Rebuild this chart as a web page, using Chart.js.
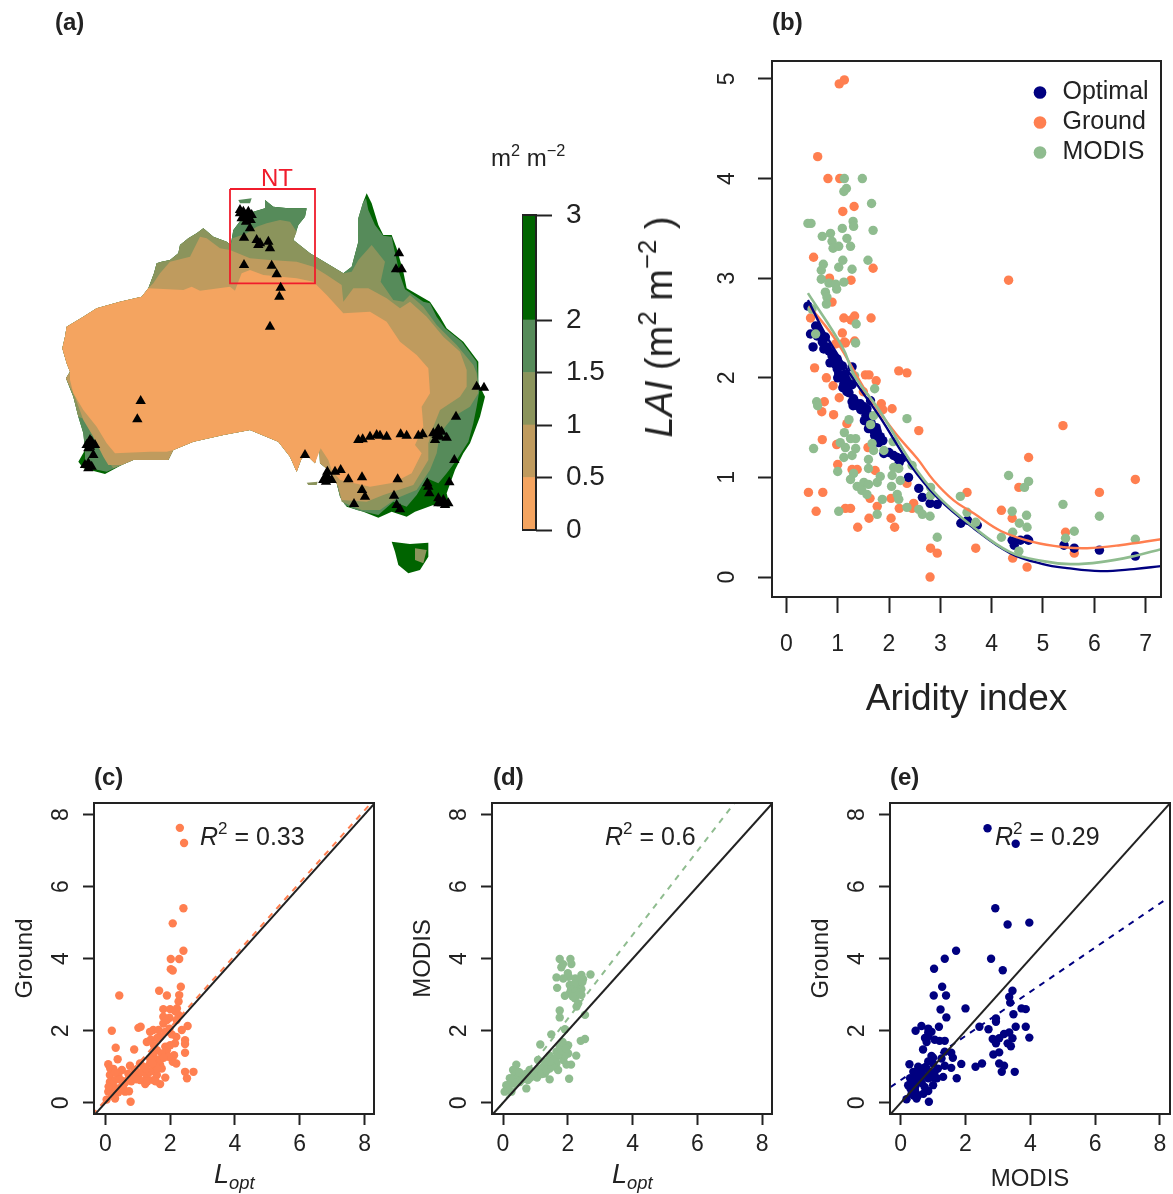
<!DOCTYPE html>
<html>
<head>
<meta charset="utf-8">
<title>LAI figure</title>
<script src="https://cdn.jsdelivr.net/npm/chart.js@4/dist/chart.umd.min.js"></script>
<style>
html, body { margin: 0; padding: 0; background: #fff; width: 1173px; height: 1194px; overflow: hidden; }
canvas { position: absolute; filter: blur(0.45px); }
.t { position: absolute; white-space: nowrap; line-height: 1; font-family: "Liberation Sans", Arial, sans-serif; color: #222; filter: blur(0.3px); }
.t b { font-weight: bold; }
.t sup { font-size: .68em; line-height: 0; vertical-align: .62em; }
.t sub { font-size: .68em; line-height: 0; vertical-align: -.3em; }
.r { transform: translate(-50%, -50%) rotate(-90deg); }
</style>
</head>
<body>
<canvas id="mapChart"></canvas>
<canvas id="barChart"></canvas>
<canvas id="aridChart"></canvas>
<canvas id="cChart"></canvas>
<canvas id="dChart"></canvas>
<canvas id="eChart"></canvas>

<div class="t" style="left:55px;top:10px;font-size:24px"><b>(a)</b></div>
<div class="t" style="left:772px;top:10px;font-size:24px"><b>(b)</b></div>
<div class="t" style="left:94px;top:765px;font-size:24px"><b>(c)</b></div>
<div class="t" style="left:493px;top:765px;font-size:24px"><b>(d)</b></div>
<div class="t" style="left:890px;top:765px;font-size:24px"><b>(e)</b></div>
<div class="t" style="left:261px;top:166px;font-size:24px;color:#f01c2c">NT</div>
<div class="t" style="left:491px;top:146px;font-size:24px">m<sup>2</sup> m<sup>−2</sup></div>
<div class="t r" style="left:659px;top:327px;font-size:38px"><i>LAI</i> (m<sup>2</sup> m<sup>−2</sup> )</div>
<div class="t" style="left:200px;top:824px;font-size:25px"><i>R</i><sup>2</sup> = 0.33</div>
<div class="t" style="left:605px;top:824px;font-size:25px"><i>R</i><sup>2</sup> = 0.6</div>
<div class="t" style="left:995px;top:824px;font-size:25px"><i>R</i><sup>2</sup> = 0.29</div>
<div class="t" style="left:214px;top:1161px;font-size:27px"><i>L<sub>opt</sub></i></div>
<div class="t" style="left:612px;top:1161px;font-size:27px"><i>L<sub>opt</sub></i></div>

<script>
// panel (a): contours in map grid units (x east, y south)
const westCoast = [[630,780],[550,795],[460,815],[400,840],[385,870],[280,870],[245,885],[195,912],[130,895],[115,875],[135,840],[130,790],[115,740],[100,680],[78,625],[90,605],[80,580],[67,535],[75,500],[80,470],[130,440],[170,415],[240,395],[305,380],[325,355],[342,310],[350,280],[365,275],[390,270],[415,250],[420,225],[445,205],[470,190],[490,175],[520,200],[560,215],[572,225]];
const northCoast = [[580,180],[610,140],[640,125],[675,115],[675,90],[700,110],[745,115],[800,115],[795,140],[775,165],[760,210],[810,250],[860,280],[910,310],[935,290],[955,215],[955,145]];
const landOutline = [...westCoast, ...northCoast, [970,95],[980,70],[995,100],[1015,165],[1030,195],[1055,195],[1070,235],[1090,305],[1100,355],[1170,395],[1200,440],[1220,475],[1270,515],[1315,575],[1315,640],[1335,680],[1320,740],[1290,820],[1270,850],[1245,900],[1220,970],[1230,1010],[1180,1005],[1125,1025],[1100,1040],[1055,1025],[1015,1043],[970,1025],[920,1010],[900,980],[890,940],[865,900],[840,880],[838,825],[825,880],[805,860],[785,865],[770,905],[750,860],[715,815]];
const contour2 = [...westCoast.slice(0, 6), [245,885],[200,905],[150,895],[135,872], ...westCoast.slice(10), ...northCoast, [968,100],[978,85],[985,120],[1005,165],[1030,197],[1055,200],[1062,235],[1070,270],[1078,310],[1095,358],[1150,395],[1170,400],[1190,440],[1215,475],[1265,515],[1310,575],[1315,640],[1320,650],[1310,710],[1300,760],[1285,815],[1250,870],[1220,910],[1195,940],[1160,925],[1130,975],[1100,1010],[1060,995],[1015,1035],[950,1020],[915,1005],[900,980],[890,940],[865,900],[840,880],[838,825],[825,880],[805,860],[785,865],[770,905],[750,860],[715,815]];
const contour15 = [[342,310],[350,280],[365,275],[390,270],[415,250],[420,225],[445,205],[470,190],[490,175],[520,200],[560,215],[572,225],[578,205],[620,190],[650,170],[680,160],[720,150],[750,155],[770,185],[760,210],[810,250],[860,280],[910,310],[935,305],[955,270],[995,225],[1035,275],[1022,335],[1060,390],[1090,395],[1110,375],[1150,410],[1190,465],[1250,525],[1300,585],[1310,610],[1315,670],[1290,710],[1240,740],[1200,790],[1190,850],[1170,900],[1130,960],[1070,985],[1020,1020],[965,1020],[905,995],[890,940],[865,900],[840,880],[838,825],[825,880],[805,860],[785,865],[770,905],[750,860],[715,815],[630,780],[550,795],[460,815],[400,840],[385,870],[280,870],[245,885],[220,895],[195,860],[160,800],[140,750],[115,740],[100,680],[78,625],[90,605],[80,580],[67,535],[75,500],[80,470],[130,440],[170,415],[240,395],[305,380],[325,355]];
const contour1 = [[325,355],[340,340],[360,310],[390,275],[450,260],[480,200],[500,205],[540,235],[570,240],[630,265],[690,270],[770,275],[820,290],[860,315],[905,345],[910,395],[940,355],[985,355],[1040,385],[1080,415],[1110,395],[1160,440],[1210,500],[1260,545],[1280,600],[1280,650],[1260,680],[1200,720],[1180,770],[1165,820],[1165,870],[1120,945],[1030,975],[980,995],[905,990],[895,950],[865,900],[840,880],[838,825],[825,880],[805,860],[785,865],[770,905],[750,860],[715,815],[630,780],[550,795],[460,815],[400,840],[385,870],[280,870],[245,885],[205,885],[190,860],[160,800],[130,750],[105,680],[78,625],[90,605],[80,580],[67,535],[75,500],[80,470],[130,440],[170,415],[240,395],[305,380]];
const contour05 = [[325,355],[430,360],[455,350],[480,362],[570,350],[585,362],[595,335],[605,310],[630,300],[670,315],[770,325],[820,335],[860,375],[910,430],[990,425],[1040,455],[1080,515],[1130,555],[1165,595],[1170,670],[1145,710],[1150,770],[1125,825],[1145,850],[1115,910],[1060,938],[990,950],[900,930],[875,900],[865,870],[842,835],[825,880],[805,860],[785,865],[770,905],[750,860],[715,815],[630,780],[550,795],[460,815],[400,840],[380,845],[330,845],[225,850],[200,820],[170,770],[130,720],[100,670],[90,630],[90,605],[80,580],[67,535],[75,500],[80,470],[130,440],[170,415],[240,395],[305,380]];
const tasmania = [[1055,1115],[1110,1122],[1165,1118],[1165,1160],[1140,1200],[1105,1210],[1075,1185],[1065,1145]];
const tasmaniaDry = [[1125,1135],[1160,1140],[1150,1180],[1125,1170]];
const tiwi = [[595,90],[635,85],[630,100],[600,100]];
const kangaroo = [[800,938],[833,935],[830,945],[805,945]];
const ntBox = [[570,57],[825,57],[825,340],[570,340],[570,57]];
const sites = [[610,125],[625,125],[615,135],[605,145],[625,145],[618,155],[630,175],[612,203],[650,210],[660,220],[655,225],[685,215],[690,235],[612,285],[695,287],[710,313],[722,353],[718,380],[690,470],[302,693],[292,748],[150,820],[150,830],[155,815],[145,835],[160,855],[145,880],[145,895],[1077,250],[1068,298],[1085,298],[1310,650],[1332,653],[1248,740],[955,810],[968,808],[990,800],[1010,795],[1020,797],[1040,800],[1082,793],[1100,797],[1135,797],[1148,793],[1195,778],[1190,795],[1185,810],[1200,800],[1220,803],[795,855],[862,905],[885,905],[902,900],[862,925],[858,935],[925,928],[966,922],[1073,928],[966,960],[975,980],[942,1002],[1062,977],[1070,1005],[1080,1018],[1162,940],[1165,950],[1168,970],[1228,937],[1243,870],[1195,985],[1210,990],[1215,1005],[600,130],[635,135],[600,120],[632,150],[140,825],[165,825],[135,885],[155,890],[150,810],[860,915],[875,930],[850,930],[1205,1000],[1225,1000],[1195,1000],[1180,790],[1205,785]];

// colour key
const keyBands = [0.5, 0.5, 0.5, 0.5, 1];
const keyColors = ["#f4a460", "#bf9b5e", "#8b945c", "#568b5a", "#006400"];
const keyTicks = [0, 0.5, 1, 1.5, 2, 3];

// panel (b)
const aridXTicks = [0, 1, 2, 3, 4, 5, 6, 7];
const aridYTicks = [0, 1, 2, 3, 4, 5];
const aridOptimal = [[.42,2.72],[.57,2.52],[.47,2.44],[.66,2.44],[.52,2.31],[.76,2.41],[.79,2.31],[.89,2.24],[.99,2.19],[.83,2.27],[.93,2.17],[.99,2.09],[1.28,2.11],[1.05,2.01],[1.12,1.94],[1.28,1.93],[1.18,1.86],[1.28,1.76],[1.38,1.72],[1.51,1.71],[1.64,1.77],[1.52,1.57],[1.6,1.49],[1.77,1.46],[1.88,1.37],[1.9,1.24],[2.09,1.22],[2.25,1.19],[2.38,1],[2.58,.89],[2.65,.8],[2.8,.74],[2.94,.73],[3.4,.54],[3.53,.57],[3.72,.52],[4.4,.37],[4.44,.32],[4.56,.37],[4.69,.38],[4.72,.37],[5.41,.32],[5.61,.29],[6.1,.27],[6.8,.21],[1.02,2.04],[1.09,2.12],[1.15,2.04],[1.21,1.97],[1.31,1.79],[1.44,1.74],[1.57,1.69],[1.7,1.47],[1.83,1.41],[2.16,1.2],[.89,2.22],[.73,2.29],[.62,2.48],[.7,2.36],[.95,2.14],[1.1,2],[1.2,1.9],[1.35,1.75],[1.62,1.62],[1.75,1.5],[2,1.25],[.6,2.42],[.72,2.38],[.85,2.15],[1,2],[1.1,1.9],[1.15,1.95],[1.22,1.85],[1.3,1.72],[1.45,1.68],[1.55,1.62],[1.65,1.55],[1.72,1.42],[1.8,1.35],[2.2,1.15]];
const aridGround = [[1.03,4.95],[1.13,4.99],[.61,4.22],[.81,4],[1.04,4],[1.32,3.72],[1.1,3.67],[.53,3.21],[1.69,3.1],[1.26,2.98],[.84,3],[4.33,2.98],[.89,2.76],[1.12,2.6],[1.26,2.58],[1.33,2.62],[1.65,2.6],[.47,2.6],[1.09,2.45],[1.15,2.35],[1.33,2.37],[.96,2.34],[1.13,2.36],[.55,2.1],[.78,2],[.91,1.92],[1.03,1.8],[.74,1.76],[.69,1.66],[.92,1.63],[1.18,1.54],[.7,1.38],[.98,1.33],[1,1.13],[1.28,1.08],[1.38,1.08],[.43,.85],[.71,.85],[.58,.66],[1.15,.69],[1.25,.69],[1.39,.5],[1.61,.59],[1.77,.71],[1.63,.79],[2.04,.79],[2.04,.59],[2.11,.5],[2.2,.69],[2.45,.69],[2.48,.74],[2.35,.94],[2.19,2.07],[2.35,2.05],[1.54,2.03],[1.61,2.03],[1.75,1.97],[1.5,1.86],[1.85,1.74],[1.88,1.68],[2.06,1.69],[2.58,1.47],[1.59,1.3],[1.73,1.07],[2.81,.29],[2.94,.24],[2.8,0],[3.69,.29],[3.52,.85],[4.19,.67],[4.4,.59],[4.41,.19],[4.69,.1],[4.53,.9],[4.72,1.2],[5.39,1.52],[6.1,.85],[6.8,.98],[5.44,.45],[5.61,.24]];
const aridModis = [[1.13,4],[1.48,4],[1.17,3.9],[1.12,3.87],[1.66,3.75],[1.3,3.57],[1.31,3.52],[1.09,3.5],[1.69,3.48],[.42,3.55],[.48,3.55],[.7,3.42],[.86,3.45],[1.18,3.4],[.89,3.37],[.91,3.3],[1.02,3.32],[1.25,3.32],[1.1,3.18],[1.59,3.18],[.72,3.14],[1.02,3.11],[1.28,3.09],[.68,3.08],[.68,2.99],[.83,2.95],[.96,2.94],[1.12,2.96],[.98,2.89],[.76,2.86],[.79,2.81],[.78,2.74],[.5,2.69],[1.36,2.54],[.57,2.44],[1.35,2.35],[1.33,2.02],[1.72,1.89],[.59,1.76],[.61,1.72],[1.22,1.58],[1.7,1.62],[1.64,1.53],[2.35,1.59],[1.13,1.45],[1.35,1.39],[1.25,1.39],[1.05,1.35],[1.15,1.3],[1.35,1.29],[.53,1.29],[1.28,1.22],[1.12,1.2],[1.67,1.34],[1.7,1.27],[1.9,1.27],[2.08,1.36],[1.6,1.18],[1.6,1.09],[1,1.06],[2.09,1.1],[2.19,1.09],[2.45,1.12],[1.31,1.04],[1.25,.98],[1.83,1.01],[2.06,1.02],[2.22,.97],[1.77,.95],[1.38,.91],[1.51,.95],[1.6,.93],[1.47,.87],[1.57,.83],[2.05,.91],[2.16,.83],[2.19,.78],[1.87,.78],[1.02,.66],[1.77,.63],[2.35,.7],[2.58,.68],[2.65,.63],[2.8,.61],[2.81,.82],[2.81,.9],[3.39,.81],[3.52,.65],[3.69,.55],[2.94,.4],[4.19,.4],[4.4,.66],[4.41,.45],[4.68,.62],[4.54,.54],[4.69,.5],[4.33,1.02],[4.72,.96],[4.64,.9],[4.53,.26],[5.39,.73],[5.61,.46],[5.44,.39],[6.1,.61],[6.8,.38]];
const curveOptimal = [[.42,2.78],[.8,2.4],[1.33,1.97],[1.83,1.6],[2.41,1.13],[2.94,.8],[3.65,.49],[4.36,.24],[5,.13],[5.47,.09],[6.12,.06],[6.77,.08],[7.3,.11]];
const curveGround = [[.45,2.72],[.96,2.38],[1.64,1.79],[2.13,1.44],[2.55,1.19],[2.87,.97],[3.26,.77],[3.65,.64],[4.19,.46],[4.82,.35],[5.41,.3],[5.86,.29],[6.5,.32],[7.3,.38]];
const curveModis = [[.42,2.85],[1.09,2.31],[1.33,2.02],[1.83,1.66],[2.41,1.17],[2.94,.82],[3.65,.5],[4.36,.25],[5,.16],[5.53,.13],[6.12,.15],[6.77,.21],[7.3,.28]];

// panels (c), (d), (e)
const scatterTicks = [0, 2, 4, 6, 8];
const oneToOne = [[-.5,-.5],[8.5,8.5]];
const fitC = [[-.4,-.33],[8.4,8.52]];
const fitD = [[-.35,-.4],[7.3,8.5]];
const fitE = [[-.31,.44],[8.24,5.68]];
const lOptGround = [[2.3,7.63],[2.43,7.21],[2.41,5.4],[2.08,4.98],[2.41,4.22],[2.02,3.99],[2.28,3.99],[2.02,3.71],[2.08,3.67],[2.33,3.22],[1.66,3.11],[1.9,2.98],[.43,2.98],[2.28,2.99],[2.26,2.81],[1.79,2.6],[2,2.6],[2.21,2.62],[1.79,2.39],[1.98,2.36],[2.26,2.44],[1.79,2.2],[1.98,2.06],[2.54,2.13],[2.36,2.02],[1.02,2.08],[1.09,2.11],[.2,2],[1.48,2.02],[1.64,2.02],[1.38,1.97],[2.19,1.83],[2.46,1.74],[1.28,1.69],[2.15,1.65],[2.46,1.63],[.32,1.53],[.89,1.48],[1.85,1.56],[1.59,1.46],[1.9,1.46],[2.46,1.39],[1.48,1.32],[1.74,1.37],[2.12,1.32],[.38,1.21],[1.59,1.19],[2.08,1.14],[2.19,1.09],[.09,1.07],[.76,1.03],[1.07,1.09],[1.38,1.09],[1.69,1.05],[.25,.94],[.51,.91],[.92,.91],[1.18,.86],[1.48,.91],[1.74,.95],[2.46,.86],[2.72,.86],[.14,.77],[.4,.77],[.71,.81],[1.02,.77],[1.28,.72],[1.59,.77],[1.85,.7],[2.52,.68],[.14,.58],[.51,.61],[1.07,.63],[1.23,.52],[1.69,.52],[.25,.44],[.73,.32],[.09,.31],[.4,.29],[.3,.12],[.78,.03],[.04,.09],[.61,.31],[.2,.26],[.87,.72],[1.38,.86],[1.38,1.23],[1.95,1.28],[1.69,1.83],[1.85,1.97],[1.18,1],[1.48,.63],[.3,.63],[.15,.95],[.3,.85],[.45,.65],[.6,.55],[.2,.5],[.35,.4],[.55,.4],[.1,.45],[.8,.6],[.95,.65],[1.1,.85],[1.25,.95],[1.3,.6],[1.55,.6],[1.6,.95],[1.45,1.1],[1.7,1.2],[1.8,1.25],[1.5,1.6],[1.4,1.75],[2,1.6],[2.05,1.9],[2.2,2.3],[1.9,2.3],[1.6,1.8],[2.15,2.55]];
const lOptModis = [[1.75,3.99],[2.08,3.99],[2.11,3.85],[1.8,3.76],[1.65,3.48],[2.03,3.5],[2.42,3.55],[2.7,3.56],[1.86,3.45],[2.23,3.45],[2.47,3.43],[2.06,3.27],[1.67,3.19],[2.32,3.22],[2.42,3.15],[2.16,3.13],[2.06,3.04],[1.91,2.97],[2.42,2.99],[2.22,2.9],[2.32,2.76],[2.27,2.67],[1.75,2.56],[1.75,2.37],[2.53,2.44],[1.91,2.04],[1.49,1.9],[2.53,1.77],[2.4,1.72],[1.15,1.62],[2.01,1.6],[1.75,1.56],[1.91,1.46],[1.65,1.42],[2.01,1.37],[2.26,1.31],[1.44,1.31],[1.75,1.32],[1.08,1.19],[1.55,1.21],[1.86,1.19],[2.1,1.06],[.41,1.06],[1.34,1.09],[1.65,1.09],[1.96,1.06],[1.24,1],[1.44,.95],[1.7,.91],[.82,.91],[.31,.91],[.46,.86],[1.13,.83],[.57,.77],[.93,.77],[1.29,.81],[.21,.68],[.41,.68],[.77,.63],[1.05,.7],[1.44,.65],[2.04,.67],[.1,.49],[.31,.54],[.52,.58],[.05,.31],[.26,.31],[.72,.4],[.15,.4],[.67,.72],[1.55,1.05],[1.91,1.31],[1.84,1.69],[.36,.77],[1.19,.95],[.2,.5],[.3,.65],[.4,.55],[.5,.85],[.6,.65],[.7,.8],[.85,.7],[1,.85],[1.1,.95],[1.2,.8],[1.35,.9],[1.5,1],[1.6,1.2],[1.7,1.35],[1.8,1.45],[1.45,1.15],[1.3,1.15],[1.95,1.5],[2.3,3.4],[2.2,3.3],[2.1,3.15],[2.25,3.1],[2.35,3.05],[2,3.6],[1.85,3.85],[2.15,2.95],[2.45,3.35]];
const modisGround = [[2.68,7.62],[3.55,7.19],[2.92,5.4],[3.3,4.95],[3.97,5],[1.71,4.22],[1.36,4],[2.79,4],[1.03,3.72],[3.15,3.68],[1.28,3.22],[3.45,3.11],[1.02,2.98],[1.4,2.98],[3.35,2.94],[3.38,2.78],[2,2.62],[1.23,2.59],[3.73,2.62],[3.86,2.6],[3.48,2.46],[1.41,2.37],[2.94,2.34],[2.94,2.25],[.64,2.13],[1.18,2.11],[2.43,2.11],[.85,2.06],[.46,2],[2.71,2.04],[3.55,2.11],[3.86,2.11],[.95,1.97],[3.35,1.95],[3.19,1.91],[.85,1.85],[3.97,1.81],[2.84,1.77],[3.04,1.79],[3.45,1.79],[1.2,1.72],[1.36,1.72],[.8,1.69],[2.94,1.65],[3.3,1.65],[3.4,1.57],[.69,1.48],[1.36,1.42],[1.56,1.39],[3.04,1.4],[2.86,1.34],[.95,1.3],[1.61,1.25],[1.26,1.23],[1.87,1.08],[2.51,1.09],[2.31,1],[3.04,1.09],[3.19,1.03],[.27,1.07],[1.36,1.03],[1.56,.97],[1,1.09],[.54,1],[.74,.97],[3.12,.86],[3.52,.86],[.39,.86],[.64,.83],[1.05,.86],[1.31,.72],[1.73,.68],[.29,.68],[.85,.68],[1.12,.68],[.54,.58],[1,.49],[.23,.49],[.74,.44],[.44,.35],[.85,.33],[.34,.26],[.54,.21],[.18,.1],[.49,.12],[.87,.03],[.34,.54],[.64,.72],[.95,.77],[.4,.65],[.5,.8],[.6,.95],[.7,.75],[.8,.95],[.9,.85],[.45,.45],[.65,.55],[.3,.4],[.4,.2],[.7,.25],[1,.7],[1.15,.95],[.85,1.15],[1,1.25],[.75,1.8],[.85,1.95],[1.05,1.75]];

const NAVY = "#000080", CORAL = "#ff7f50", SAGE = "#8fbc8f", INK = "#222";

Chart.defaults.font.family = '"Liberation Sans", Arial, sans-serif';
Chart.defaults.color = INK;
Chart.defaults.animation = false;
Chart.defaults.responsive = false;
Chart.defaults.devicePixelRatio = 1;
Chart.defaults.layout.autoPadding = false;
Chart.defaults.plugins.tooltip.enabled = false;

// R style box round the plot
const boxPlugin = {
    id: "box",
    afterDatasetsDraw(chart) {
        const a = chart.chartArea, c = chart.ctx;
        c.save();
        c.strokeStyle = INK;
        c.lineWidth = 2;
        c.strokeRect(a.left, a.top, a.right - a.left, a.bottom - a.top);
        c.restore();
    },
};

// puts the canvas so the plot area lands on the wanted box
function place(id, box, m) {
    const el = document.getElementById(id);
    el.width = box.right - box.left + m.left + m.right;
    el.height = box.bottom - box.top + m.top + m.bottom;
    el.style.left = box.left - m.left + "px";
    el.style.top = box.top - m.top + "px";
    return el;
}

function axis(o) {
    return {
        type: "linear",
        position: o.position,
        min: o.min,
        max: o.max,
        afterBuildTicks: (s) => { s.ticks = o.ticks.map((v) => ({ value: v })); },
        afterFit: (s) => {
            if (s.isHorizontal()) s.height = o.size; else s.width = o.size;
            // tick padding would otherwise shrink the plot area
            s.paddingTop = s.paddingBottom = s.paddingLeft = s.paddingRight = 0;
        },
        border: { display: false },
        grid: { drawOnChartArea: false, tickLength: o.tickLength, tickColor: INK, tickWidth: 2 },
        title: o.title ? { display: true, text: o.title, font: { size: o.titleSize }, padding: 0, color: INK } : { display: false },
        ticks: {
            autoSkip: false,
            font: { size: o.fontSize },
            padding: o.padding,
            callback: (v) => String(v),
            ...(o.rotated ? { minRotation: 90, maxRotation: 90, crossAlign: "center" } : { maxRotation: 0 }),
        },
    };
}

function pts(pairs, label, color, radius, order) {
    return { label, data: pairs, showLine: false, pointRadius: radius, pointBorderWidth: 0, backgroundColor: color, borderColor: color, order };
}
function line(pairs, color, width, dash, order, tension) {
    return { data: pairs, showLine: true, pointRadius: 0, borderColor: color, borderWidth: width, borderDash: dash || [], tension: tension || 0, order };
}
function region(pairs, color, order) {
    return { data: pairs, showLine: true, pointRadius: 0, borderWidth: 0, backgroundColor: color, borderColor: color, fill: "shape", order };
}

// (a) map
const mapBox = { left: 40, top: 170, right: 500, bottom: 590 };
new Chart(place("mapChart", mapBox, { left: 0, right: 0, top: 0, bottom: 0 }), {
    type: "scatter",
    data: {
        datasets: [
            { ...pts(sites, "Sites", "#000", 6, 0), pointStyle: "triangle" },
            line(ntBox, "#f01c2c", 1.8, null, 1),
            region(kangaroo, keyColors[2], 2),
            region(tiwi, keyColors[3], 2),
            region(tasmaniaDry, keyColors[2], 3),
            region(tasmania, keyColors[4], 4),
            region(contour05, keyColors[0], 5),
            region(contour1, keyColors[1], 6),
            region(contour15, keyColors[2], 7),
            region(contour2, keyColors[3], 8),
            region(landOutline, keyColors[4], 9),
        ],
    },
    options: {
        layout: { padding: 0 },
        plugins: { legend: { display: false } },
        scales: {
            x: { type: "linear", display: false, min: 0, max: 1380 },
            y: { type: "linear", display: false, min: 0, max: 1260, reverse: true },
        },
    },
});

// colour key, stacked bands on a linear scale
const barBox = { left: 522, top: 215, right: 536, bottom: 530 };
const barM = { left: 0, right: 70, top: 20, bottom: 20 };
new Chart(place("barChart", barBox, barM), {
    type: "bar",
    data: {
        labels: ["LAI"],
        datasets: keyBands.map((v, i) => ({ data: [v], backgroundColor: keyColors[i], barPercentage: 1, categoryPercentage: 1, borderWidth: 0 })),
    },
    plugins: [boxPlugin],
    options: {
        layout: { padding: { top: barM.top, bottom: barM.bottom } },
        plugins: { legend: { display: false } },
        scales: {
            x: { display: false, stacked: true },
            y: {
                ...axis({ position: "right", min: 0, max: 3, ticks: keyTicks, size: barM.right, tickLength: 16, fontSize: 28, padding: 14 }),
                stacked: true,
            },
        },
    },
});

// (b)
const aridBox = { left: 772, top: 61, right: 1161, bottom: 597 };
const aridM = { left: 60, right: 12, top: 10, bottom: 125 };
new Chart(place("aridChart", aridBox, aridM), {
    type: "scatter",
    data: {
        datasets: [
            pts(aridOptimal, "Optimal", NAVY, 4.7, 3),
            pts(aridGround, "Ground", CORAL, 4.7, 4),
            pts(aridModis, "MODIS", SAGE, 4.7, 2),
            line(curveOptimal, NAVY, 2.4, null, 1, 0.4),
            line(curveGround, CORAL, 2.4, null, 1, 0.4),
            line(curveModis, SAGE, 2.6, null, 0, 0.4),
        ],
    },
    plugins: [boxPlugin, {
        id: "legendInside",
        afterLayout(chart) {
            chart.legend.left = 1025 - parseFloat(chart.canvas.style.left);
            chart.legend.top = 75 - parseFloat(chart.canvas.style.top);
        },
    }],
    options: {
        layout: { padding: { top: aridM.top, right: aridM.right } },
        plugins: {
            legend: {
                position: "chartArea",
                align: "start",
                labels: {
                    usePointStyle: true,
                    boxWidth: 20,
                    boxHeight: 9,
                    padding: 5,
                    color: INK,
                    font: { size: 25 },
                    filter: (item) => !!item.text,
                    sort: (a, b) => a.datasetIndex - b.datasetIndex,
                },
            },
        },
        scales: {
            x: axis({ position: "bottom", min: -0.28, max: 7.3, ticks: aridXTicks, size: aridM.bottom, tickLength: 16, fontSize: 23, padding: 18, title: "Aridity index", titleSize: 37 }),
            y: axis({ position: "left", min: -0.2, max: 5.18, ticks: aridYTicks, size: aridM.left, tickLength: 14, fontSize: 23, padding: 24, rotated: true }),
        },
    },
});

// (c) (d) (e)
function scatterPanel(id, left, x0, pairs, color, fit, yTitle, xTitle) {
    const box = { left, top: 803, right: left + 280, bottom: 1114 };
    const m = { left: 83, right: 3, top: 12, bottom: 80 };
    new Chart(place(id, box, m), {
        type: "scatter",
        data: {
            datasets: [
                line(oneToOne, INK, 2, null, 0),
                line(fit, color, 2, [6, 6], 1),
                pts(pairs, "points", color, 4.2, 2),
            ],
        },
        plugins: [boxPlugin],
        options: {
            layout: { padding: { top: m.top, right: m.right } },
            plugins: { legend: { display: false } },
            scales: {
                x: axis({ position: "bottom", min: x0, max: x0 + 280 / 32.4, ticks: scatterTicks, size: m.bottom, tickLength: 11, fontSize: 23, padding: 6, title: xTitle, titleSize: 24 }),
                y: axis({ position: "left", min: -0.31, max: 8.32, ticks: scatterTicks, size: m.left, tickLength: 11, fontSize: 23, padding: 15, rotated: true, title: yTitle, titleSize: 24 }),
            },
        },
    });
}
scatterPanel("cChart", 94, -0.35, lOptGround, CORAL, fitC, "Ground");
scatterPanel("dChart", 492, -0.34, lOptModis, SAGE, fitD, "MODIS");
scatterPanel("eChart", 890, -0.33, modisGround, NAVY, fitE, "Ground", "MODIS");
</script>
</body>
</html>
